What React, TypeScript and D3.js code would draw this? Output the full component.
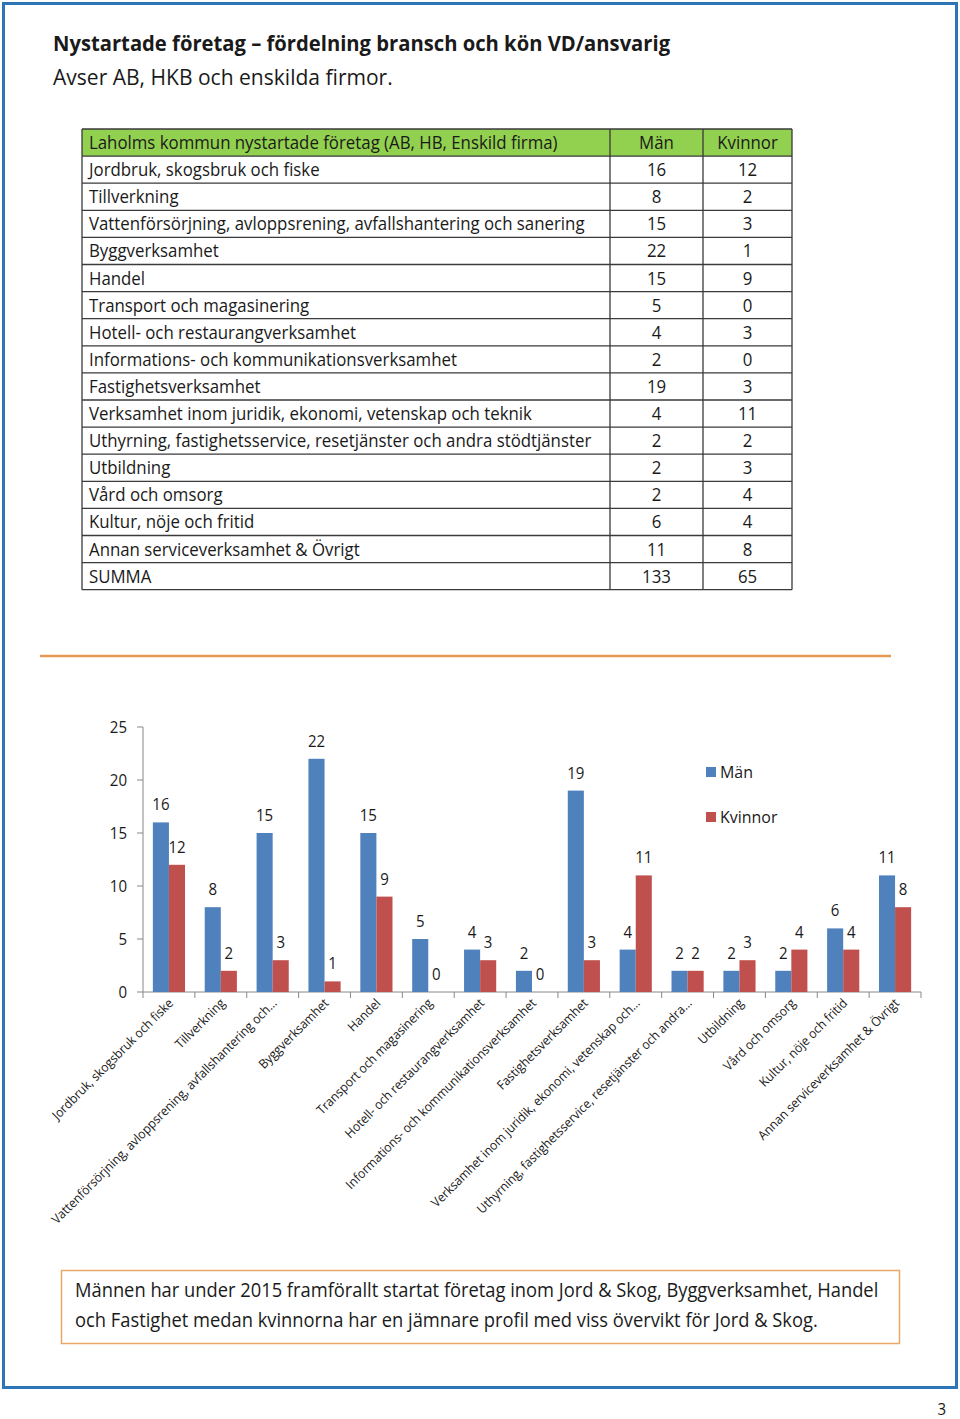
import React from "react";
import { scaleBand, scaleLinear, range } from "d3";

const title = "Nystartade företag – fördelning bransch och kön VD/ansvarig";
const subtitle = "Avser AB, HKB och enskilda firmor.";
const tableHeader = ["Laholms kommun nystartade företag (AB, HB, Enskild firma)", "Män", "Kvinnor"];

const categories = [
  "Jordbruk, skogsbruk och fiske",
  "Tillverkning",
  "Vattenförsörjning, avloppsrening, avfallshantering och sanering",
  "Byggverksamhet",
  "Handel",
  "Transport och magasinering",
  "Hotell- och restaurangverksamhet",
  "Informations- och kommunikationsverksamhet",
  "Fastighetsverksamhet",
  "Verksamhet inom juridik, ekonomi, vetenskap och teknik",
  "Uthyrning, fastighetsservice, resetjänster och andra stödtjänster",
  "Utbildning",
  "Vård och omsorg",
  "Kultur, nöje och fritid",
  "Annan serviceverksamhet & Övrigt",
];
const axisLabels = [
  "Jordbruk, skogsbruk och fiske",
  "Tillverkning",
  "Vattenförsörjning, avloppsrening, avfallshantering och…",
  "Byggverksamhet",
  "Handel",
  "Transport och magasinering",
  "Hotell- och restaurangverksamhet",
  "Informations- och kommunikationsverksamhet",
  "Fastighetsverksamhet",
  "Verksamhet inom juridik, ekonomi, vetenskap och…",
  "Uthyrning, fastighetsservice, resetjänster och andra…",
  "Utbildning",
  "Vård och omsorg",
  "Kultur, nöje och fritid",
  "Annan serviceverksamhet & Övrigt",
];
const man = [16, 8, 15, 22, 15, 5, 4, 2, 19, 4, 2, 2, 2, 6, 11];
const kvinnor = [12, 2, 3, 1, 9, 0, 3, 0, 3, 11, 2, 3, 4, 4, 8];
const totals = ["SUMMA", 133, 65];
const series = ["Män", "Kvinnor"];
const yTicks = [0, 5, 10, 15, 20, 25];
const comment = [
  "Männen har under 2015 framförallt startat företag inom Jord & Skog, Byggverksamhet, Handel",
  "och Fastighet medan kvinnorna har en jämnare profil med viss övervikt för Jord & Skog.",
];

const FONT = "'Open Sans', 'Liberation Sans', sans-serif";
const SX = 0.94; // squeeze Open Sans a little toward Calibri widths
const BLUE = "#4F81BD";
const RED = "#C0504D";

// text squeezed horizontally, anchored at (x, y)
const T: React.FC<{
  x: number;
  y: number;
  size: number;
  anchor?: "start" | "middle" | "end";
  weight?: string | number;
  rotate?: number;
  fill?: string;
  children: React.ReactNode;
}> = ({ x, y, size, anchor = "start", weight = "normal", rotate = 0, fill = "#1a1a1a", children }) => (
  <text
    transform={`translate(${x},${y}) rotate(${rotate}) scale(${SX},1)`}
    fontSize={size}
    fontFamily={FONT}
    fontWeight={weight}
    textAnchor={anchor}
    fill={fill}
  >
    {children}
  </text>
);

export default function App() {
  const W = 960;
  const H = 1419;

  // table
  const tX = [82, 610, 703, 792];
  const tTop = 129;
  const rowH = 27.1;
  const rows: (string | number)[][] = [
    tableHeader,
    ...categories.map((c, i) => [c, man[i], kvinnor[i]]),
    totals,
  ];

  // chart
  const y = scaleLinear().domain([0, 25]).range([992, 727]);
  const x0 = scaleBand<number>()
    .domain(range(axisLabels.length))
    .range([143, 921])
    .paddingInner(0.38)
    .paddingOuter(0.19);
  const x1 = scaleBand<string>().domain(series).range([0, x0.bandwidth()]);
  const step = x0.step();
  const data = [man, kvinnor];
  const colors = [BLUE, RED];

  return (
    <svg width={W} height={H} style={{ display: "block", position: "absolute", left: 0, top: 0 }}>
      <rect x={0} y={0} width={W} height={H} fill="#fff" />
      {/* page frame */}
      <rect x={3.5} y={3.5} width={953} height={1384} fill="none" stroke="#2E75B6" strokeWidth={3} />

      <T x={53} y={51} size={21.5} weight="bold">{title}</T>
      <T x={53} y={85} size={22.4}>{subtitle}</T>

      {/* table */}
      <rect x={tX[0]} y={tTop} width={tX[3] - tX[0]} height={rowH} fill="#92D050" />
      {rows.map((r, i) => (
        <g key={i}>
          <T x={tX[0] + 7} y={tTop + rowH * i + 20} size={17.9}>{r[0]}</T>
          <T x={(tX[1] + tX[2]) / 2} y={tTop + rowH * i + 20} size={17.9} anchor="middle">{r[1]}</T>
          <T x={(tX[2] + tX[3]) / 2} y={tTop + rowH * i + 20} size={17.9} anchor="middle">{r[2]}</T>
        </g>
      ))}
      {range(rows.length + 1).map((i) => (
        <line key={i} x1={tX[0]} x2={tX[3]} y1={tTop + rowH * i} y2={tTop + rowH * i} stroke="#3a3a3a" strokeWidth={1.3} />
      ))}
      {tX.map((v, i) => (
        <line key={i} x1={v} x2={v} y1={tTop} y2={tTop + rowH * rows.length} stroke="#3a3a3a" strokeWidth={1.3} />
      ))}

      {/* orange separator */}
      <line x1={40} x2={891} y1={656} y2={656} stroke="#E59A52" strokeWidth={2.5} />

      {/* chart axes */}
      <line x1={143} x2={143} y1={y(25)} y2={y(0)} stroke="#888" />
      {yTicks.map((v) => (
        <g key={v}>
          <line x1={137} x2={143} y1={y(v)} y2={y(v)} stroke="#888" />
          <T x={127} y={y(v) + 6} size={16} anchor="end">{v}</T>
        </g>
      ))}
      <line x1={143} x2={143 + step * axisLabels.length} y1={y(0)} y2={y(0)} stroke="#888" />
      {range(axisLabels.length + 1).map((i) => (
        <line key={i} x1={143 + step * i} x2={143 + step * i} y1={y(0)} y2={y(0) + 6} stroke="#888" />
      ))}

      {/* bars */}
      {data.map((vals, s) =>
        vals.map((v, i) => {
          const bx = x0(i)! + x1(series[s])!;
          return (
            <g key={`${s}-${i}`}>
              <rect x={bx} y={y(v)} width={x1.bandwidth()} height={y(0) - y(v)} fill={colors[s]} />
              <T x={bx + x1.bandwidth() / 2} y={y(v) - 12} size={16} anchor="middle">{v}</T>
            </g>
          );
        })
      )}

      {/* category labels */}
      {axisLabels.map((c, i) => (
        <T key={i} x={x0(i)! + x0.bandwidth() / 2 + 5} y={1004} size={12.8} anchor="end" rotate={-45}>
          {c}
        </T>
      ))}

      {/* legend */}
      {series.map((s, i) => (
        <g key={s}>
          <rect x={706} y={767 + i * 45} width={10} height={10} fill={colors[i]} />
          <T x={720} y={778 + i * 45} size={17}>{s}</T>
        </g>
      ))}

      {/* comment box */}
      <rect x={61.5} y={1270.5} width={838} height={73} fill="none" stroke="#E8A868" strokeWidth={1.5} />
      {comment.map((l, i) => (
        <T key={i} x={75} y={1297 + i * 30} size={19.5}>{l}</T>
      ))}

      <T x={946} y={1415} size={16} anchor="end">3</T>
    </svg>
  );
}
